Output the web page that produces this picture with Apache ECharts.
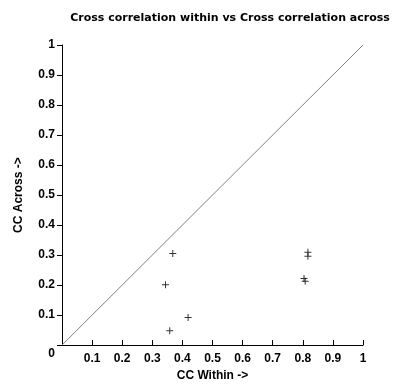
<!DOCTYPE html>
<html>
<head>
<meta charset="utf-8">
<script src="https://cdn.jsdelivr.net/npm/echarts@6/dist/echarts.min.js"></script>
<style>
  html, body { margin: 0; padding: 0; background: #fff; }
  #chart { width: 400px; height: 387px; }
</style>
</head>
<body>
<div id="chart"></div>
<script>
// points
const ccWithin = [0.368, 0.344, 0.419, 0.358, 0.817, 0.817, 0.804, 0.808];
const ccAcross = [0.305, 0.201, 0.092, 0.048, 0.309, 0.296, 0.222, 0.213];
const diagonal = [[0, 0], [1, 1]];

const chart = echarts.init(document.getElementById("chart"));
const font = "'Liberation Sans', Arial, sans-serif";

const points = ccWithin.map((x, i) => [x, ccAcross[i]]);

chart.setOption({
  animation: false,
  title: {
    text: "Cross correlation within vs Cross correlation across",
    left: 225,
    textAlign: "center",
    top: 8,
    textStyle: { fontFamily: "Verdana, 'DejaVu Sans', sans-serif", fontSize: 11, fontWeight: "bold", color: "#000" },
  },
  grid: { left: 62, top: 45, right: 37, bottom: 39 },
  xAxis: {
    type: "value",
    min: 0,
    max: 1,
    interval: 0.1,
    name: "CC Within ->",
    nameLocation: "middle",
    nameGap: 24,
    nameTextStyle: { fontFamily: font, fontSize: 12, fontWeight: "bold", color: "#000" },
    axisLine: { lineStyle: { color: "#000", width: 1 } },
    axisTick: { inside: true, length: 5, lineStyle: { color: "#000" } },
    axisLabel: {
      fontFamily: font, fontSize: 12, fontWeight: "bold", color: "#000", margin: 8,
      formatter: (v) => (v === 0 ? "" : String(+v.toFixed(1))),
    },
    splitLine: { show: false },
  },
  yAxis: {
    type: "value",
    min: 0,
    max: 1,
    interval: 0.1,
    name: "CC Across ->",
    nameLocation: "middle",
    nameGap: 37,
    nameTextStyle: { fontFamily: font, fontSize: 12, fontWeight: "bold", color: "#000" },
    axisLine: { show: true, lineStyle: { color: "#000", width: 1 } },
    axisTick: { show: true, length: 5, lineStyle: { color: "#000" } },
    axisLabel: {
      fontFamily: font, fontSize: 12, fontWeight: "bold", color: "#000", margin: 7,
      formatter: (v) => (v === 0 ? "{z|0}" : String(+v.toFixed(1))),
      rich: { z: { fontFamily: font, fontSize: 12, fontWeight: "bold", color: "#000", padding: [18, 0, 0, 0] } },
    },
    splitLine: { show: false },
  },
  series: [
    {
      type: "line",
      data: diagonal,
      symbol: "none",
      lineStyle: { color: "#808080", width: 1 },
      silent: true,
    },
    {
      type: "scatter",
      data: points,
      symbol: "path://M3,0h1v7h-1z M0,3h7v1h-7z",
      symbolSize: 7,
      itemStyle: { color: "#000" },
    },
  ],
});
</script>
</body>
</html>
